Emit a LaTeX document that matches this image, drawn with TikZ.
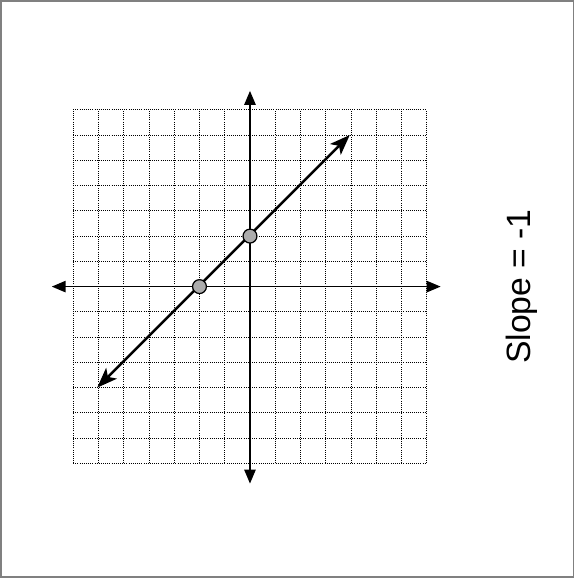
\documentclass[tikz,border=0pt]{standalone}
\usepackage{fontspec}
\setmainfont{Liberation Sans}
\usetikzlibrary{arrows.meta}

\tikzset{
  gridline/.style={line width=0.9pt, dash pattern=on 1.1pt off 1.3pt},
  axis/.style={line width=1.6pt, {Triangle[length=0.55cm,width=0.45cm]}-{Triangle[length=0.55cm,width=0.45cm]}},
  graphline/.style={line width=2.8pt, {Stealth[length=0.8cm,width=0.6cm,inset=0.2cm]}-{Stealth[length=0.8cm,width=0.6cm,inset=0.2cm]}},
  dotpt/.style={circle, draw, line width=1.4pt, fill=gray!65, minimum size=0.55cm, inner sep=0pt},
}

\begin{document}
\begin{tikzpicture}
  \useasboundingbox (-9.90,-11.54) rectangle (12.87,11.35);
  \draw[gray, line width=1.2pt] (-9.86,-11.50) rectangle (12.83,11.31);
  % grid
  \draw[gridline] (-7,-7) grid (7,7);
  % axes
  \coordinate (xl) at (-7.85,0);
  \coordinate (xr) at (7.55,0);
  \coordinate (yb) at (0,-7.8);
  \coordinate (yt) at (0,7.75);
  \draw[axis] (xl) -- (xr);
  \draw[axis] (yb) -- (yt);
  % line through the two points
  \coordinate (lo) at (-6.05,-4);
  \coordinate (hi) at (3.95,6);
  \draw[graphline] (lo) -- (hi);
  \node[dotpt] (px) at (-2,0) {};
  \node[dotpt] (py) at (0,2) {};
  \node[rotate=90, font=\fontsize{38}{44}\selectfont] (slope) at (10.75,0) {Slope = -1};
\end{tikzpicture}
\end{document}
